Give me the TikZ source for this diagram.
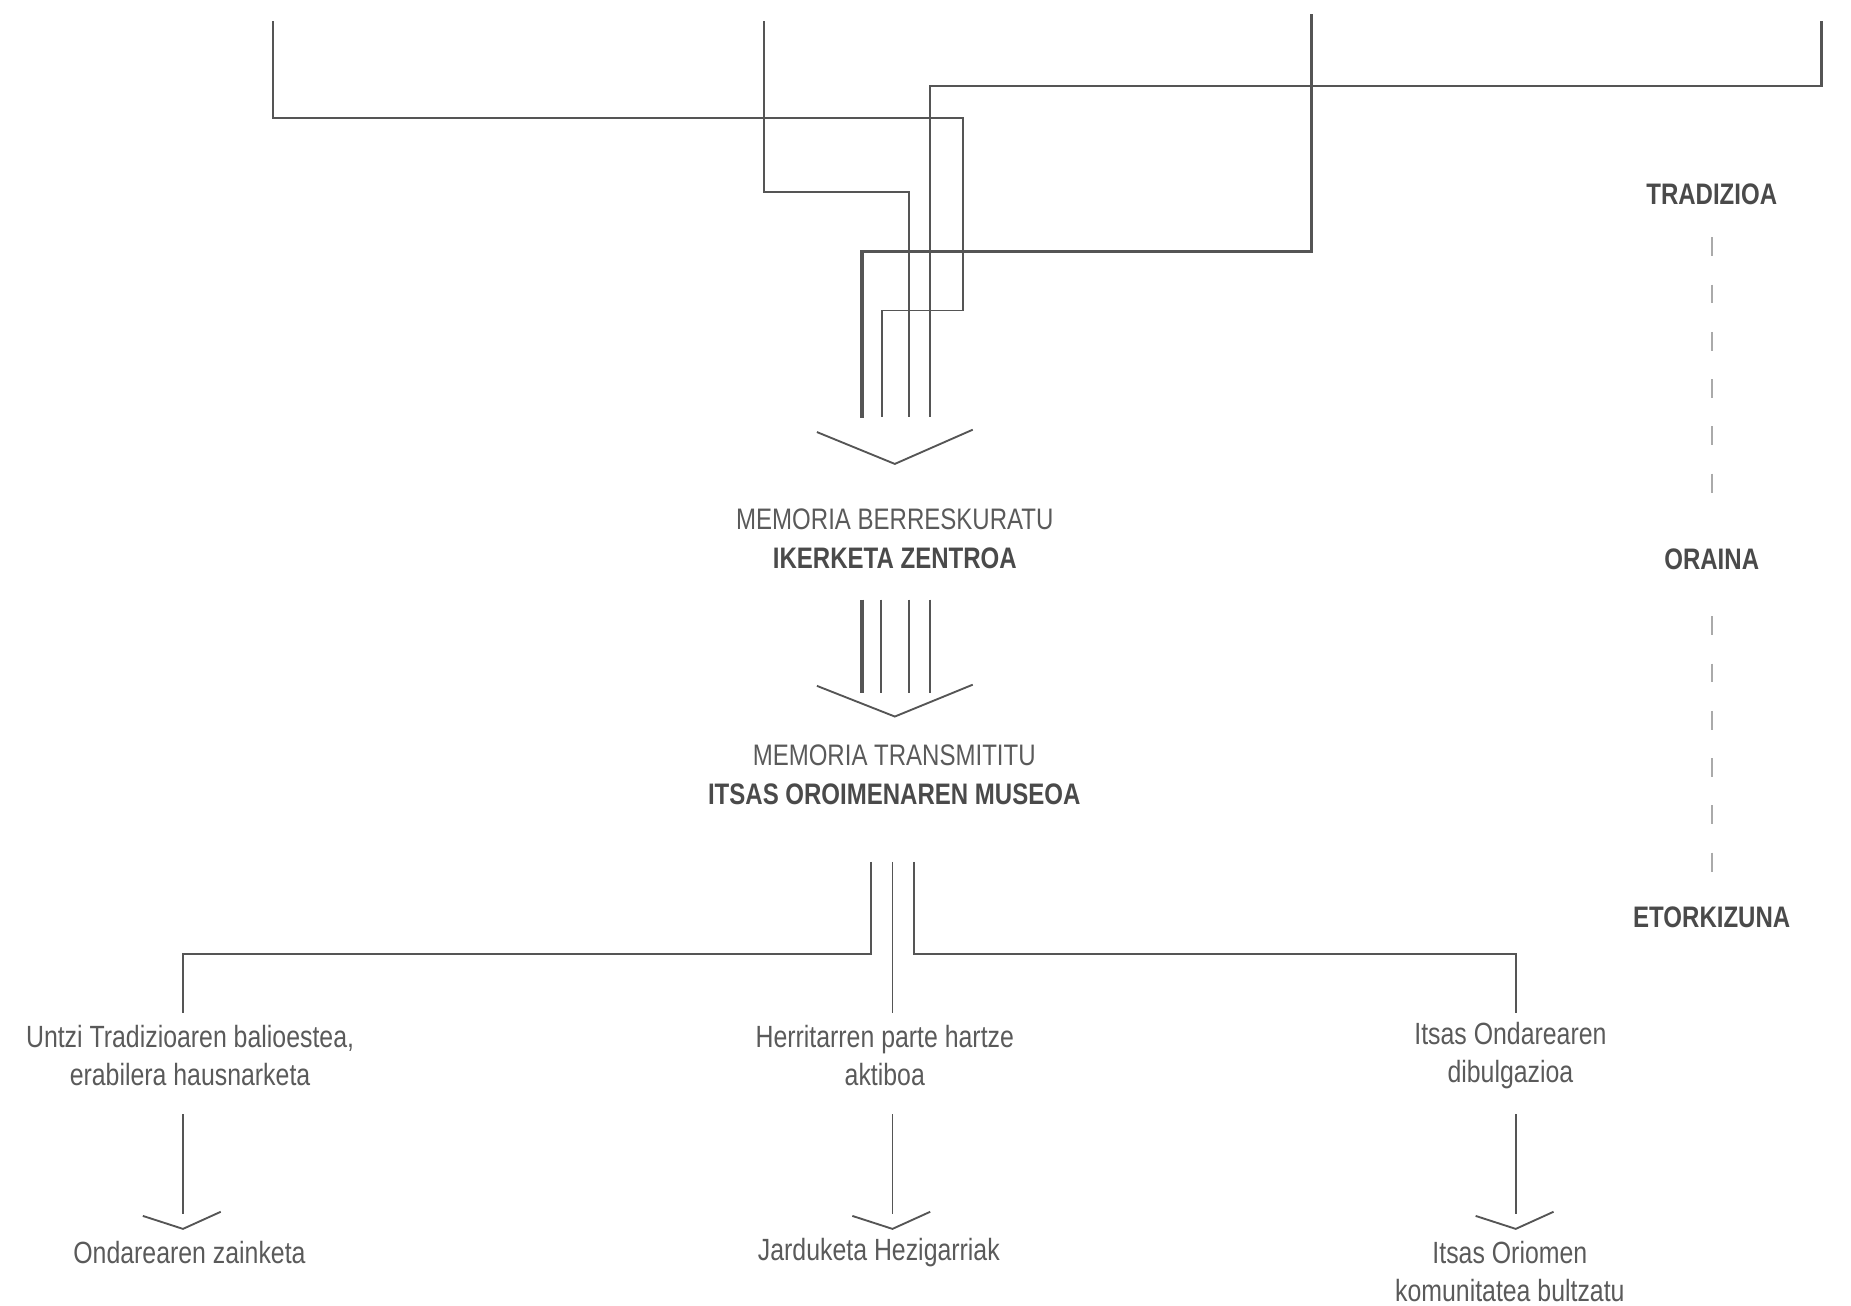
\documentclass[tikz,border=0pt]{standalone}
\usepackage{fontspec}
\setmainfont{Liberation Sans}[FakeStretch=0.81]
\usetikzlibrary{positioning}
\usetikzlibrary{calc}

\begin{document}
\begin{tikzpicture}[x=0.02cm, y=-0.02cm,
    line/.style={draw=linegray, line width=0.9pt},
    mainline/.style={draw=linegray, line width=1.8pt},
    chevron/.style={draw=linegray, line width=0.9pt},
    title/.style={text=textgray, align=center, inner sep=0pt,
        font=\fontsize{14.3}{18.8}\selectfont},
    item/.style={text=textgray, align=center, inner sep=0pt,
        font=\fontsize{14.8}{18.2}\selectfont},
    period/.style={text=darkgray, inner sep=0pt,
        font=\fontsize{14.3}{17}\selectfont\bfseries},
    timeline/.style={draw=dashgray, line width=0.9pt, dash pattern=on 9.1pt off 13.7pt},
]
    % Colors
    \definecolor{linegray}{HTML}{555555}
    \definecolor{textgray}{HTML}{5A5A5A}
    \definecolor{darkgray}{HTML}{4A4A4A}
    \definecolor{dashgray}{HTML}{AAAAAA}

    \useasboundingbox (0,0) rectangle (1568,1105.5);

    % Incoming lines
    \coordinate (a0) at (231,18);
    \coordinate (b0) at (647,18);
    \coordinate (c0) at (1111,12);
    \coordinate (d0) at (1543,18);

    \draw[line]     (a0) |- (816,100) |- (747,263) -- (747,353);
    \draw[line]     (b0) |- (770,163) -- (770,353);
    \draw[mainline] (c0) |- (730,213) -- (730,354);
    \draw[line, line width=1.1pt] (d0) |- (788,73) -- (788,353);

    %First arrow
    \coordinate (tip1) at (758,393);
    \draw[chevron] (692,366) -- (tip1) -- (824,364);

    % Research centre
    \node[title] (ikerketa) at (758,456)
        {MEMORIA BERRESKURATU\\\textbf{\color{darkgray}IKERKETA ZENTROA}};

    \draw[mainline] (730,508) -- (730,587);
    \foreach \x in {746,770,788}
        \draw[line] (\x,508) -- (\x,587);

    %Second arrow
    \coordinate (tip2) at (758,607);
    \draw[chevron] (692,581) -- (tip2) -- (824,580);

    % Museum
    \node[title] (museoa) at (757.5,656)
        {MEMORIA TRANSMITITU\\\textbf{\color{darkgray}ITSAS OROIMENAREN MUSEOA}};

    % Branches
    \node[item] (untzi)     at (161,894)  {Untzi Tradizioaren balioestea,\\erabilera hausnarketa};
    \node[item] (herri)     at (749.5,894) {Herritarren parte hartze\\aktiboa};
    \node[item] (ondarea)   at (1279.5,894) {Itsas Ondarearen\\dibulgazioa};

    \coordinate (m1) at (738,730);
    \coordinate (m2) at (756,730);
    \coordinate (m3) at (774,730);
    \coordinate (u1) at (155,858);
    \coordinate (h1) at (756,858);
    \coordinate (o1) at (1284,858);

    \draw[line] (m1) -- (738,808) -| (u1);
    \draw[line] (m2) -- (h1);
    \draw[line] (m3) -- (774,808) -| (o1);

    % Results
    \node[item] (zainketa)  at (160.5,1061) {Ondarearen zainketa};
    \node[item] (jarduketa) at (744.5,1061) {Jarduketa Hezigarriak};
    \node[item] (oriomen)   at (1279,1077) {Itsas Oriomen\\komunitatea bultzatu};

    \foreach \x/\name in {155/u, 756/h, 1284/o} {
        \coordinate (\name2) at (\x,944);
        \coordinate (\name3) at (\x,1041);
        \draw[line]    (\name2) -- (\x,1028);
        \draw[chevron] ($(\name3)+(-34,-11)$) -- (\name3) -- ($(\name3)+(32,-14.5)$);
    }

    % Time axis
    \node[period] (tradizioa)  at (1450,165) {TRADIZIOA};
    \node[period] (oraina)     at (1450,474) {ORAINA};
    \node[period] (etorkizuna) at (1450,777) {ETORKIZUNA};

    \draw[timeline] (1450,201) -- (1450,418);
    \draw[timeline] (1450,522) -- (1450,740);

\end{tikzpicture}
\end{document}
